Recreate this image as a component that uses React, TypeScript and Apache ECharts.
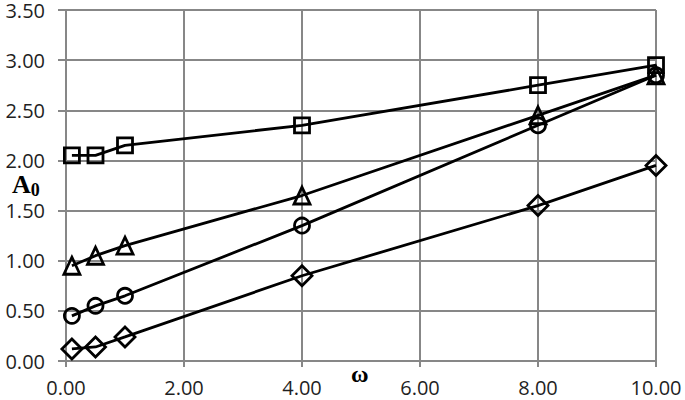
import React, { useEffect, useRef } from "react";
import * as echarts from "echarts";

const xValues = [0.1, 0.5, 1, 4, 8, 10];
const squareSeries = [2.05, 2.05, 2.15, 2.35, 2.75, 2.95];
const triangleSeries = [0.95, 1.05, 1.15, 1.65, 2.45, 2.85];
const circleSeries = [0.45, 0.55, 0.65, 1.35, 2.35, 2.85];
const diamondSeries = [0.12, 0.14, 0.24, 0.85, 1.55, 1.95];

const pair = (ys: number[]) => xValues.map((x, i) => [x, ys[i]]);

export default function App() {
  const ref = useRef<HTMLDivElement>(null);
  useEffect(() => {
    document.body.style.margin = "0";
    if (!ref.current) return;
    const chart = echarts.init(ref.current, undefined, { renderer: "svg" });
    const mk = (name: string, data: number[], symbol: string, size: any) => ({
      name,
      type: "line",
      data: pair(data),
      symbol,
      symbolSize: size,
      showAllSymbol: true,
      lineStyle: { color: "#000", width: 2.8 },
      itemStyle: { color: "rgba(0,0,0,0)", borderColor: "#000", borderWidth: 2.8 },
      z: 3,
    });
    chart.setOption({
      animation: false,
      backgroundColor: "#fff",
      grid: { left: 66, right: 29, top: 9, bottom: 39, containLabel: false },
      xAxis: {
        type: "value",
        min: 0,
        max: 10,
        interval: 2,
        axisLine: { show: true, lineStyle: { color: "#878787", width: 2 } },
        axisTick: { show: true, length: 6, lineStyle: { color: "#878787", width: 2 } },
        splitLine: { show: true, lineStyle: { color: "#878787", width: 2 } },
        axisLabel: {
          margin: 16,
          fontFamily: "Open Sans",
          fontSize: 20,
          color: "#1f1f1f",
          formatter: (v: number) => v.toFixed(2),
        },
      },
      yAxis: {
        type: "value",
        min: 0,
        max: 3.5,
        interval: 0.5,
        axisLine: { show: true, lineStyle: { color: "#878787", width: 2 } },
        axisTick: { show: true, length: 8, lineStyle: { color: "#878787", width: 2 } },
        splitLine: { show: true, lineStyle: { color: "#878787", width: 2 } },
        axisLabel: {
          margin: 21,
          fontFamily: "Open Sans",
          fontSize: 20,
          color: "#1f1f1f",
          formatter: (v: number) => v.toFixed(2),
        },
      },
      graphic: [
        {
          type: "text",
          left: 12,
          top: 171,
          style: {
            text: "{a|A}{b|0}",
            rich: {
              a: { fontFamily: "Liberation Serif", fontWeight: "bold", fontSize: 26, fill: "#000" },
              b: { fontFamily: "Liberation Serif", fontWeight: "bold", fontSize: 18, fill: "#000", padding: [11, 0, 0, 0] },
            },
          },
        },
        {
          type: "text",
          left: 351,
          top: 362,
          style: {
            text: "ω",
            fontFamily: "Liberation Serif",
            fontWeight: "bold",
            fontSize: 24,
            fill: "#000",
          },
        },
      ],
      series: [
        mk("square", squareSeries, "rect", 15),
        mk("triangle", triangleSeries, "triangle", [16, 17]),
        mk("circle", circleSeries, "circle", 15),
        mk("diamond", diamondSeries, "diamond", 20),
      ],
    });
    return () => chart.dispose();
  }, []);
  return <div ref={ref} style={{ width: 685, height: 400 }} />;
}
